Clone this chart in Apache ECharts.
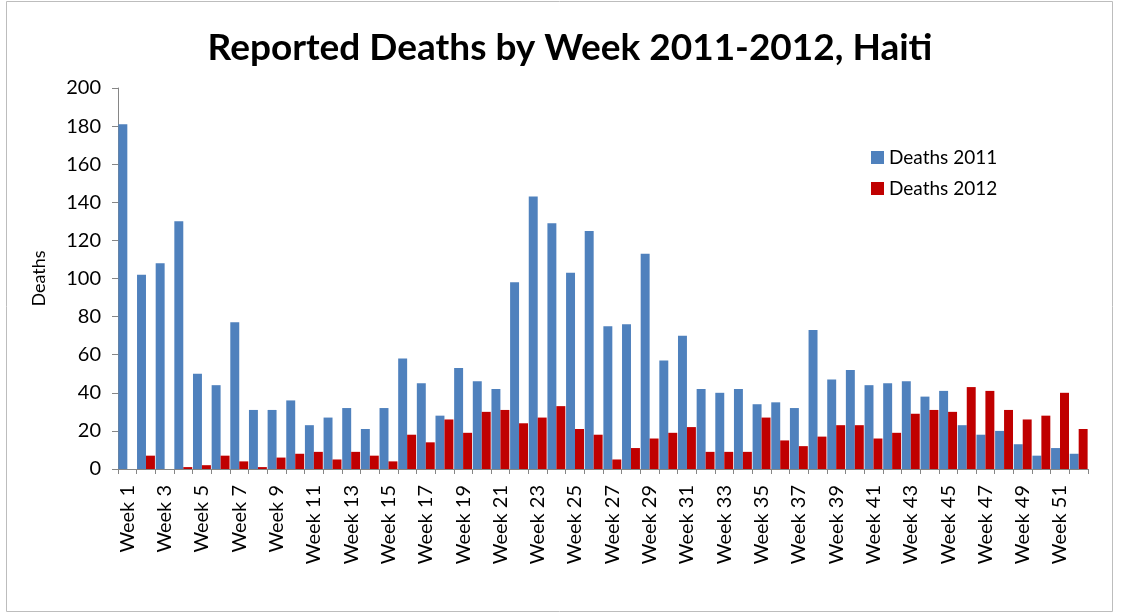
<!DOCTYPE html>
<html>
<head>
<meta charset="utf-8">
<title>Reported Deaths by Week 2011-2012, Haiti</title>
<script src="https://cdn.jsdelivr.net/npm/echarts@6/dist/echarts.min.js"></script>
<style>
  html, body { margin: 0; padding: 0; background: #fff; }
  #chart { width: 1125px; height: 613px; }
</style>
</head>
<body>
<div id="chart"></div>
<script>
// week labels
var weeks = [];
for (var i = 1; i <= 52; i++) weeks.push('Week ' + i);

// values
var deaths2011 = [181, 102, 108, 130, 50, 44, 77, 31, 31, 36,
                  23, 27, 32, 21, 32, 58, 45, 28, 53, 46,
                  42, 98, 143, 129, 103, 125, 75, 76, 113, 57,
                  70, 42, 40, 42, 34, 35, 32, 73, 47, 52,
                  44, 45, 46, 38, 41, 23, 18, 20, 13, 7,
                  11, 8];
var deaths2012 = [0, 7, 0, 1, 2, 7, 4, 1, 6, 8,
                  9, 5, 9, 7, 4, 18, 14, 26, 19, 30,
                  31, 24, 27, 33, 21, 18, 5, 11, 16, 19,
                  22, 9, 9, 9, 27, 15, 12, 17, 23, 23,
                  16, 19, 29, 31, 30, 43, 41, 31, 26, 28,
                  40, 21];

var fontName = 'Lato, "Open Sans", sans-serif';

var myChart = echarts.init(document.getElementById('chart'));

var option = {
    backgroundColor: '#fff',
    animation: false,
    title: {
        text: 'Reported Deaths by Week 2011-2012, Haiti',
        left: 565,
        top: 25,
        textAlign: 'center',
        textStyle: { fontFamily: fontName, fontSize: 37, fontWeight: 'bold', color: '#000' }
    },
    legend: {
        orient: 'vertical',
        left: 866,
        top: 143,
        icon: 'rect',
        itemWidth: 13,
        itemHeight: 13,
        itemGap: 12,
        textStyle: { fontFamily: fontName, fontSize: 19, color: '#000' },
        data: ['Deaths 2011', 'Deaths 2012']
    },
    graphic: [{
        type: 'rect',
        shape: { x: 6.5, y: 1.5, width: 1106, height: 610 },
        style: { fill: 'none', stroke: '#bdbdbd', lineWidth: 1 },
        silent: true
    }],
    grid: { left: 118, right: 37, top: 88, bottom: 144 },
    xAxis: {
        type: 'category',
        data: weeks,
        axisLine: { lineStyle: { color: '#868686' } },
        axisTick: { show: true, interval: 0, length: 5, lineStyle: { color: '#868686' } },
        axisLabel: {
            interval: 1,
            rotate: 90,
            margin: 16,
            fontFamily: fontName,
            fontSize: 20,
            color: '#000'
        }
    },
    yAxis: {
        type: 'value',
        min: 0,
        max: 200,
        interval: 20,
        name: 'Deaths',
        nameLocation: 'middle',
        nameGap: 70,
        nameTextStyle: { fontFamily: fontName, fontSize: 18, color: '#000' },
        axisLine: { show: true, lineStyle: { color: '#868686' } },
        axisTick: { show: true, length: 6, lineStyle: { color: '#868686' } },
        axisLabel: { fontFamily: fontName, fontSize: 20, color: '#000', margin: 17 },
        splitLine: { show: false }
    },
    series: [
        {
            name: 'Deaths 2011',
            type: 'bar',
            data: deaths2011,
            barGap: '0%',
            barCategoryGap: '4%',
            itemStyle: { color: '#4F81BD' }
        },
        {
            name: 'Deaths 2012',
            type: 'bar',
            data: deaths2012,
            itemStyle: { color: '#C00000' }
        }
    ]
};

myChart.setOption(option);
</script>
</body>
</html>
